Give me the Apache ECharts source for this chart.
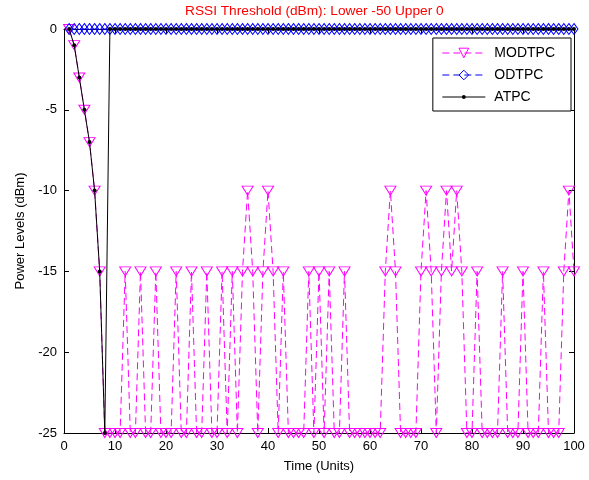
<!DOCTYPE html>
<html>
<head>
<meta charset="utf-8">
<script src="https://cdn.jsdelivr.net/npm/echarts@6/dist/echarts.min.js"></script>
<style>
  html, body { margin: 0; padding: 0; background: #ffffff; }
  #chart { width: 589px; height: 480px; }
</style>
</head>
<body>
<div id="chart"></div>
<script>
// Power level traces (dBm) for each transmit power control scheme, one value per time unit (1..100)
const modtpc = [
    0,  -1,  -3,  -5,  -7, -10, -15, -25, -25, -25,
  -25, -15, -25, -25, -15, -25, -25, -15, -25, -25,
  -25, -15, -25, -25, -15, -25, -25, -15, -25, -25,
  -15, -25, -15, -25, -15, -10, -15, -25, -15, -10,
  -15, -25, -15, -25, -25, -25, -25, -15, -25, -15,
  -25, -15, -25, -25, -15, -25, -25, -25, -25, -25,
  -25, -25, -15, -10, -15, -25, -25, -25, -25, -15,
  -10, -15, -25, -15, -10, -15, -10, -15, -25, -25,
  -15, -25, -25, -25, -25, -15, -25, -25, -25, -15,
  -25, -25, -25, -15, -25, -25, -25, -15, -10, -15
];
const odtpc = [
  0, 0, 0, 0, 0, 0, 0, 0, 0, 0,
  0, 0, 0, 0, 0, 0, 0, 0, 0, 0,
  0, 0, 0, 0, 0, 0, 0, 0, 0, 0,
  0, 0, 0, 0, 0, 0, 0, 0, 0, 0,
  0, 0, 0, 0, 0, 0, 0, 0, 0, 0,
  0, 0, 0, 0, 0, 0, 0, 0, 0, 0,
  0, 0, 0, 0, 0, 0, 0, 0, 0, 0,
  0, 0, 0, 0, 0, 0, 0, 0, 0, 0,
  0, 0, 0, 0, 0, 0, 0, 0, 0, 0,
  0, 0, 0, 0, 0, 0, 0, 0, 0, 0
];
const atpc = [
    0,  -1,  -3,  -5,  -7, -10, -15, -25,   0,   0,
    0,   0,   0,   0,   0,   0,   0,   0,   0,   0,
    0,   0,   0,   0,   0,   0,   0,   0,   0,   0,
    0,   0,   0,   0,   0,   0,   0,   0,   0,   0,
    0,   0,   0,   0,   0,   0,   0,   0,   0,   0,
    0,   0,   0,   0,   0,   0,   0,   0,   0,   0,
    0,   0,   0,   0,   0,   0,   0,   0,   0,   0,
    0,   0,   0,   0,   0,   0,   0,   0,   0,   0,
    0,   0,   0,   0,   0,   0,   0,   0,   0,   0,
    0,   0,   0,   0,   0,   0,   0,   0,   0,   0
];
const seriesNames = ['MODTPC', 'ODTPC', 'ATPC'];
const titleText = 'RSSI Threshold (dBm): Lower -50 Upper 0';
const xName = 'Time (Units)';
const yName = 'Power Levels (dBm)';

const FONT = 'Arial, "Liberation Sans", Helvetica, sans-serif';

// pair each value with its time index (1-based)
const toPoints = arr => arr.map((v, i) => [i + 1, v]);

// small dot centred in a larger invisible box so legend and plot dots stay small
const smallDot = 'path://M-5,-5 M5,5 M2,0 A2,2 0 1,1 -2,0 A2,2 0 1,1 2,0 Z';

function frameAxis(kind, pos, show) {
  const base = {
    type: 'value',
    position: pos,
    axisLine: { show: true, onZero: false, lineStyle: { color: '#000', width: 1 } },
    axisTick: { show: true, inside: true, length: 5, lineStyle: { color: '#000', width: 1 } },
    splitLine: { show: false },
    axisLabel: { show: show, color: '#000', fontSize: 13, fontFamily: FONT, margin: 7 }
  };
  if (kind === 'x') {
    return Object.assign(base, { min: 0, max: 100, interval: 10 });
  }
  return Object.assign(base, { min: -25, max: 0, interval: 5 });
}

const xBottom = frameAxis('x', 'bottom', true);
xBottom.name = xName;
xBottom.nameLocation = 'middle';
xBottom.nameGap = 27;
xBottom.nameTextStyle = { color: '#000', fontSize: 13, fontFamily: FONT };
const xTop = frameAxis('x', 'top', false);

const yLeft = frameAxis('y', 'left', true);
yLeft.name = yName;
yLeft.nameLocation = 'middle';
yLeft.nameGap = 36;
yLeft.nameTextStyle = { color: '#000', fontSize: 13, fontFamily: FONT };
const yRight = frameAxis('y', 'right', false);

const chart = echarts.init(document.getElementById('chart'), null, { renderer: 'canvas' });

chart.setOption({
  animation: false,
  backgroundColor: '#ffffff',
  title: {
    text: titleText,
    left: 185,
    top: 4,
    padding: 0,
    textStyle: { color: '#ff0000', fontSize: 13.7, fontWeight: 'normal', fontFamily: FONT }
  },
  grid: { left: 64, right: 15, top: 29, bottom: 47, containLabel: false },
  xAxis: [xBottom, xTop],
  yAxis: [yLeft, yRight],
  legend: {
    data: seriesNames,
    orient: 'vertical',
    right: 18,
    top: 38,
    backgroundColor: '#ffffff',
    borderColor: '#000',
    borderWidth: 1,
    borderRadius: 0,
    padding: [8, 16, 7, 9],
    itemWidth: 43,
    itemHeight: 12,
    itemGap: 8,
    selectedMode: false,
    lineStyle: { width: 1 },
    itemStyle: { borderWidth: 1 },
    textStyle: { color: '#000', fontSize: 14, fontFamily: FONT, padding: [0, 0, 0, 4] }
  },
  series: [
    {
      name: seriesNames[0],
      type: 'line',
      xAxisIndex: 0, yAxisIndex: 0,
      data: toPoints(modtpc),
      clip: false,
      symbol: 'triangle',
      symbolRotate: 180,
      symbolSize: [11, 9],
      showAllSymbol: true,
      itemStyle: { color: 'rgba(0,0,0,0)', borderColor: '#ff00ff', borderWidth: 1 },
      lineStyle: { color: '#ff00ff', width: 1, type: [7, 4] },
      emphasis: { disabled: true },
      z: 2
    },
    {
      name: seriesNames[1],
      type: 'line',
      xAxisIndex: 0, yAxisIndex: 0,
      data: toPoints(odtpc),
      clip: false,
      symbol: 'diamond',
      symbolSize: [8, 11],
      showAllSymbol: true,
      itemStyle: { color: 'rgba(0,0,0,0)', borderColor: '#0000ff', borderWidth: 1 },
      lineStyle: { color: '#0000ff', width: 1, type: [7, 4] },
      emphasis: { disabled: true },
      z: 3
    },
    {
      name: seriesNames[2],
      type: 'line',
      xAxisIndex: 0, yAxisIndex: 0,
      data: toPoints(atpc),
      clip: false,
      symbol: smallDot,
      symbolSize: 10,
      showAllSymbol: true,
      itemStyle: { color: '#000000' },
      lineStyle: { color: '#000000', width: 1, type: 'solid' },
      emphasis: { disabled: true },
      z: 4
    }
  ]
});
</script>
</body>
</html>
